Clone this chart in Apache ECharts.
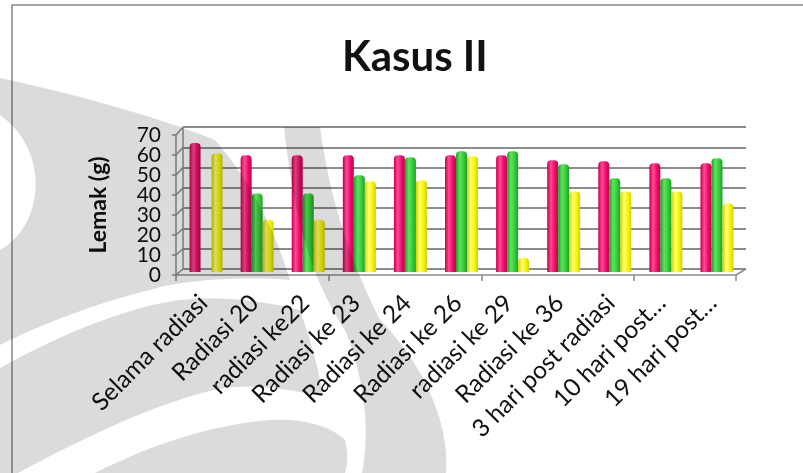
<!DOCTYPE html>
<html>
<head>
<meta charset="utf-8">
<script src="https://cdn.jsdelivr.net/npm/echarts@6/dist/echarts.min.js"></script>
<style>
  html, body { margin: 0; padding: 0; background: #ffffff; }
  #chart { width: 803px; height: 473px; }
</style>
</head>
<body>
<div id="chart"></div>
<script>
// Categories (x axis) and the three series of fat mass (g)
const categories = [
  'Selama radiasi', 'Radiasi 20', 'radiasi ke22', 'Radiasi ke 23', 'Radiasi ke 24',
  'Radiasi ke 26', 'radiasi ke 29', 'Radiasi ke 36', '3 hari post radiasi',
  '10 hari post…', '19 hari post…'
];
const pinkValues   = [64, 58, 58, 58, 58, 58, 58, 55.5, 55, 54, 54];
const greenValues  = [null, 39, 39, 48, 57, 60, 60, 53.5, 46.5, 46.5, 56.5];
const yellowValues = [59, 26, 26, 45, 45.5, 57.5, 7, 40, 40, 40, 34];
const yMin = 0, yMax = 70, yStep = 10;

// Plot geometry: front face, back wall, the bar plane in between,
// and a plane used only to place the slanted category labels
const FRONT = { left: 176, top: 135, width: 560, height: 140 };
const BACK  = { left: 183, top: 127, width: 563, height: 142 };
const MID   = { left: 180.5, top: 131, width: 562, height: 141 };
const LABEL = { left: 178, top: 135, width: 560, height: 140 };

const FONT = 'Lato, "Open Sans", sans-serif';
const GRID_GRAY = '#8c8c8c';

function cylinder(edge, light, base) {
  return {
    type: 'linear', x: 0, y: 0, x2: 1, y2: 0,
    colorStops: [
      { offset: 0, color: edge },
      { offset: 0.35, color: light },
      { offset: 0.7, color: base },
      { offset: 1, color: edge }
    ]
  };
}

function barSeries(name, data, fill) {
  return {
    name: name,
    type: 'bar',
    xAxisIndex: 2,
    yAxisIndex: 2,
    data: data,
    barWidth: 11,
    barGap: '0%',
    itemStyle: { color: fill, borderRadius: [4, 4, 0, 0] },
    z: 5
  };
}

// The tick labels sit closer than their own height, so they are split
// over two coincident axes (even and odd steps) to keep every one drawn
function tickLabel(parity) {
  return function (v) {
    return (Math.round(v / yStep) % 2 === parity) ? String(v) : '';
  };
}
const yLabelStyle = {
  fontFamily: FONT, fontSize: 21, color: '#111',
  showMinLabel: true, showMaxLabel: true
};

const option = {
  backgroundColor: '#ffffff',
  animation: false,
  title: {
    text: 'Kasus II',
    left: 337,
    top: 31,
    textStyle: { fontFamily: FONT, fontWeight: 'bold', fontSize: 42, color: '#111' }
  },
  grid: [
    Object.assign({ containLabel: false }, FRONT),
    Object.assign({ containLabel: false }, BACK),
    Object.assign({ containLabel: false }, MID),
    Object.assign({ containLabel: false }, LABEL),
    Object.assign({ containLabel: false }, FRONT)
  ],
  xAxis: [
    {
      type: 'category', gridIndex: 0, data: categories,
      axisLine: { lineStyle: { color: GRID_GRAY, width: 1.5 } },
      axisTick: { show: true, length: 6, lineStyle: { color: GRID_GRAY, width: 1.5 } },
      axisLabel: { show: false }
    },
    { type: 'category', gridIndex: 1, data: categories, show: false },
    { type: 'category', gridIndex: 2, data: categories, show: false },
    {
      type: 'category', gridIndex: 3, data: categories,
      axisLine: { show: false }, axisTick: { show: false },
      axisLabel: {
        rotate: 45, margin: 24, interval: 0,
        fontFamily: FONT, fontSize: 24.5, color: '#111'
      }
    },
    { type: 'category', gridIndex: 4, data: categories, show: false }
  ],
  yAxis: [
    {
      type: 'value', gridIndex: 0, min: yMin, max: yMax, interval: yStep,
      name: 'Lemak (g)', nameLocation: 'middle', nameGap: 66,
      nameTextStyle: { fontFamily: FONT, fontWeight: 'bold', fontSize: 23, color: '#111' },
      axisLine: { show: true, lineStyle: { color: GRID_GRAY, width: 1.5 } },
      axisTick: { show: true, length: 4, lineStyle: { color: GRID_GRAY, width: 1.5 } },
      axisLabel: Object.assign({ margin: 15, formatter: tickLabel(0) }, yLabelStyle),
      splitLine: { show: false }
    },
    {
      type: 'value', gridIndex: 1, min: yMin, max: yMax, interval: yStep,
      axisLine: { show: true, lineStyle: { color: GRID_GRAY, width: 1.5 } },
      axisTick: { show: false }, axisLabel: { show: false },
      splitLine: { show: true, lineStyle: { color: GRID_GRAY, width: 2 } }
    },
    {
      type: 'value', gridIndex: 2, min: yMin, max: yMax, interval: yStep, show: false,
      splitLine: { show: false }
    },
    {
      type: 'value', gridIndex: 3, min: yMin, max: yMax, interval: yStep, show: false,
      splitLine: { show: false }
    },
    {
      type: 'value', gridIndex: 4, min: yMin, max: yMax, interval: yStep,
      axisLine: { show: false }, axisTick: { show: false },
      axisLabel: Object.assign({ margin: 15, formatter: tickLabel(1) }, yLabelStyle),
      splitLine: { show: false }
    }
  ],
  series: [
    barSeries('Seri 1', pinkValues, cylinder('#c4004c', '#ff4a93', '#ee0a6c')),
    barSeries('Seri 2', greenValues, cylinder('#1f9e24', '#5fe35f', '#34cc3a')),
    barSeries('Seri 3', yellowValues, cylinder('#cfcf00', '#ffff70', '#f6f600'))
  ]
};

const chart = echarts.init(document.getElementById('chart'), null, { renderer: 'canvas' });
chart.setOption(option);

// Side wall and floor edges joining the front axis to the back wall
const frame = [];
for (let v = yMin; v <= yMax; v += yStep) {
  const yf = chart.convertToPixel({ yAxisIndex: 0 }, v);
  const yb = chart.convertToPixel({ yAxisIndex: 1 }, v);
  frame.push({
    type: 'line', silent: true, z: 3,
    shape: { x1: FRONT.left, y1: yf, x2: BACK.left, y2: yb },
    style: { stroke: GRID_GRAY, lineWidth: 1.5 }
  });
}
const yf0 = chart.convertToPixel({ yAxisIndex: 0 }, yMin);
const yb0 = chart.convertToPixel({ yAxisIndex: 1 }, yMin);
frame.push({
  type: 'line', silent: true, z: 3,
  shape: { x1: FRONT.left + FRONT.width, y1: yf0, x2: BACK.left + BACK.width, y2: yb0 },
  style: { stroke: GRID_GRAY, lineWidth: 1.5 }
});

// Outer chart border
frame.push({
  type: 'rect', silent: true, z: 1,
  shape: { x: 12, y: 5, width: 900, height: 600 },
  style: { fill: null, stroke: '#888888', lineWidth: 1.5 }
});

// Turn a simple M/L/C/Z outline into polygon points
function outlinePoints(d) {
  const tok = d.match(/[MLCZ]|-?\d+(?:\.\d+)?/g);
  const pts = [];
  let i = 0, cmd = null, cx = 0, cy = 0;
  const num = function () { return parseFloat(tok[i++]); };
  while (i < tok.length) {
    if (/[MLCZ]/.test(tok[i])) { cmd = tok[i++]; if (cmd === 'Z') continue; }
    if (cmd === 'M' || cmd === 'L') {
      cx = num(); cy = num(); pts.push([cx, cy]);
    } else if (cmd === 'C') {
      const x1 = num(), y1 = num(), x2 = num(), y2 = num(), x3 = num(), y3 = num();
      for (let s = 1; s <= 16; s++) {
        const t = s / 16, u = 1 - t;
        pts.push([
          u * u * u * cx + 3 * u * u * t * x1 + 3 * u * t * t * x2 + t * t * t * x3,
          u * u * u * cy + 3 * u * u * t * y1 + 3 * u * t * t * y2 + t * t * t * y3
        ]);
      }
      cx = x3; cy = y3;
    } else { i++; }
  }
  return pts;
}

// Faint watermark swooshes over the page
const shade = 'rgba(0,0,0,0.14)';
const swooshes = [
  'M0,78 C80,95 160,118 215,140 C250,180 275,230 290,280 C240,276 180,280 150,290 C90,305 40,325 0,345 L0,250 C45,225 50,150 0,115 Z',
  'M284,127 L320,127 C330,200 350,260 380,320 C420,360 450,420 446,473 L362,473 C370,430 365,380 345,330 C305,270 292,200 284,127 Z',
  'M0,368 C50,340 120,308 180,300 C220,296 260,300 300,310 C310,340 320,370 322,396 C290,390 250,382 214,390 C150,405 80,440 18,473 L0,473 Z',
  'M95,473 C150,445 210,425 270,420 C300,418 330,425 345,440 C348,452 348,463 345,473 Z'
];
swooshes.forEach(function (d) {
  frame.push({
    type: 'polygon', silent: true, z: 100,
    shape: { points: outlinePoints(d) },
    style: { fill: shade, stroke: null }
  });
});

chart.setOption({ graphic: { elements: frame } });
</script>
</body>
</html>
